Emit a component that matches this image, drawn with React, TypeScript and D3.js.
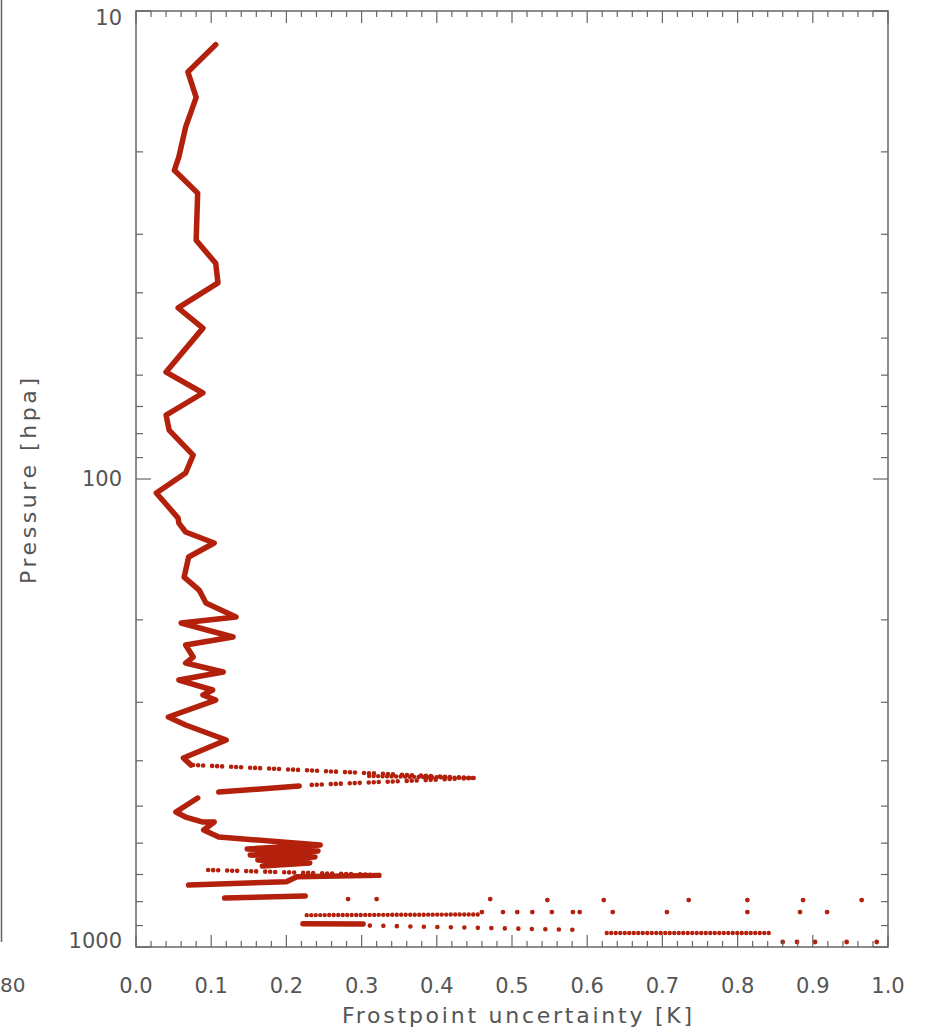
import React from "react";
import * as d3 from "d3";

// ---- data: [uncertainty K, pressure hPa] ----
const profileUpper: [number, number][] = [
  [0.106, 11.8], [0.069, 13.5], [0.080, 15.3], [0.066, 17.7], [0.057, 20.5], [0.051, 21.9],
  [0.082, 24.5], [0.080, 30.9], [0.106, 34.6], [0.109, 38.1], [0.056, 43.1], [0.089, 47.6],
  [0.040, 59.1], [0.089, 65.5], [0.040, 73.0], [0.044, 78.6], [0.076, 88.9], [0.066, 97.1],
  [0.027, 107.1], [0.056, 121.2], [0.057, 124.2], [0.066, 129.8], [0.104, 137.0], [0.070, 146.8],
  [0.064, 162.0], [0.084, 172.7], [0.093, 184.1], [0.133, 197.2], [0.060, 203.1], [0.129, 217.6],
  [0.066, 226.3], [0.076, 240.1], [0.066, 247.3], [0.116, 258.5], [0.057, 268.9], [0.102, 282.4],
  [0.089, 289.4], [0.106, 296.7], [0.043, 322.5], [0.066, 335.5], [0.120, 361.2], [0.063, 394.7],
  [0.073, 408.5],
];
const profileLower: [number, number][] = [
  [0.082, 480.5], [0.053, 514.7], [0.066, 527.6], [0.089, 540.7], [0.104, 540.7], [0.090, 562.3],
  [0.110, 582.1], [0.245, 605.5], [0.148, 617.4], [0.242, 623.5], [0.152, 635.9], [0.238, 642.2],
  [0.162, 651.7], [0.231, 661.4], [0.168, 671.2],
];
const solidRowB: [number, number][] = [[0.217, 452.9], [0.110, 466.6]];
const solidRow6: [number, number][] = [[0.323, 703], [0.214, 708], [0.200, 725], [0.070, 737.4]];
const solidRow7: [number, number][] = [[0.118, 786.1], [0.225, 778]];
const solidRow924: [number, number][] = [[0.222, 892], [0.302, 893.4]];

const groupedDotRows: [number, number][][] = [
  [[0.076, 408.5], [0.449, 435.5]],
  [[0.449, 435.5], [0.230, 450.7]],
  [[0.096, 684.6], [0.323, 701.6]],
];
const denseDotRows: [number, number][][] = [
  [[0.31, 431], [0.449, 435.5]],
  [[0.227, 855], [0.457, 852]],
  [[0.626, 933.4], [0.847, 933.4]],
];
const sparseDotRows: [number, number][][] = [
  [[0.311, 900], [0.597, 920]],
];
const scatterU = [
  0.282, 0.320, 0.471, 0.547, 0.622, 0.735, 0.813, 0.887, 0.965,
  0.460, 0.488, 0.507, 0.527, 0.553, 0.581, 0.590, 0.634, 0.706, 0.813, 0.883, 0.919,
  0.860, 0.879, 0.903, 0.945, 0.985,
];
const scatterP = [
  789.9, 789.9, 789.9, 793.9, 793.9, 793.9, 793.9, 793.9, 793.9,
  842, 842, 842, 842, 842, 842, 842, 842, 842, 842, 842, 842,
  975.7, 975.7, 975.7, 975.7, 975.7,
];

const xTickLabels = ["0.0", "0.1", "0.2", "0.3", "0.4", "0.5", "0.6", "0.7", "0.8", "0.9", "1.0"];
const yMajor = [10, 100, 1000];

const RED = "#b3200c";
const AX = "#666";
const TXT = "#555";
const FONT = "'DejaVu Sans', sans-serif";

export default function App() {
  const L = 136, R = 888, T = 11, B = 947;
  const x = d3.scaleLinear().domain([0, 1]).range([L, R]);
  const y = d3.scaleLog().domain([10, 1000]).range([T, B]);
  const line = d3.line<[number, number]>().x(d => x(d[0])).y(d => y(d[1]));

  const xMinor = d3.range(0, 51).map(i => i * 0.02);
  const yTicks = y.ticks();

  const solids = [profileUpper, profileLower, solidRowB, solidRow6, solidRow7, solidRow924];

  return (
    <svg width={926} height={1032} style={{ position: "absolute", left: 0, top: 0, background: "#fff" }}>
      <rect width={926} height={1032} fill="#fff" />
      {/* partial neighbour panel */}
      <line x1={1.5} y1={0} x2={1.5} y2={942} stroke={AX} strokeWidth={1.5} />
      <text x={0} y={992} textAnchor="start" fontFamily={FONT} fontSize={20} fill={TXT}>80</text>

      <g clipPath="url(#plotclip)">
        <defs>
          <clipPath id="plotclip"><rect x={L} y={T - 5} width={R - L + 2} height={B - T + 5} /></clipPath>
        </defs>
        {solids.map((s, i) => (
          <path key={"s" + i} d={line(s) || ""} fill="none" stroke={RED} strokeWidth={5.5}
            strokeLinejoin="round" strokeLinecap="round" />
        ))}
        {groupedDotRows.map((s, i) => (
          <path key={"g" + i} d={line(s) || ""} fill="none" stroke={RED} strokeWidth={4.6}
            strokeLinecap="round" strokeDasharray="0 5 0 5 0 9" />
        ))}
        {denseDotRows.map((s, i) => (
          <path key={"d" + i} d={line(s) || ""} fill="none" stroke={RED} strokeWidth={4.4}
            strokeLinecap="round" strokeDasharray="0 4.5" />
        ))}
        {sparseDotRows.map((s, i) => (
          <path key={"p" + i} d={line(s) || ""} fill="none" stroke={RED} strokeWidth={4.6}
            strokeLinecap="round" strokeDasharray="0 13.5" />
        ))}
        {scatterU.map((u, i) => (
          <circle key={"c" + i} cx={x(u)} cy={y(scatterP[i])} r={2.4} fill={RED} />
        ))}
      </g>

      {/* frame */}
      <rect x={L} y={T} width={R - L} height={B - T} fill="none" stroke={AX} strokeWidth={1.5} />
      {xMinor.map((v, i) => {
        const len = i % 5 === 0 ? 12 : 6;
        return (
          <g key={"xt" + i}>
            <line x1={x(v)} x2={x(v)} y1={B} y2={B - len} stroke={AX} strokeWidth={1.2} />
            <line x1={x(v)} x2={x(v)} y1={T} y2={T + len} stroke={AX} strokeWidth={1.2} />
          </g>
        );
      })}
      {yTicks.map((v, i) => {
        const major = yMajor.includes(v);
        const len = major ? 15 : 7;
        return (
          <g key={"yt" + i}>
            <line x1={L} x2={L + len} y1={y(v)} y2={y(v)} stroke={AX} strokeWidth={1.2} />
            <line x1={R} x2={R - len} y1={y(v)} y2={y(v)} stroke={AX} strokeWidth={1.2} />
          </g>
        );
      })}
      {xTickLabels.map((t, i) => (
        <text key={"xl" + i} x={x(+t)} y={993} textAnchor="middle" fontFamily={FONT} fontSize={21} fill={TXT}>{t}</text>
      ))}
      {yMajor.map((v, i) => (
        <text key={"yl" + i} x={122} y={Math.min(Math.max(y(v), 18), 941)} textAnchor="end"
          dominantBaseline="central" fontFamily={FONT} fontSize={21} fill={TXT}>{String(v)}</text>
      ))}
      <text x={517} y={1023} textAnchor="middle" fontFamily={FONT} fontSize={22} fill={TXT}
        textLength={350} lengthAdjust="spacing">Frostpoint uncertainty [K]</text>
      <text transform="translate(36,481) rotate(-90)" textAnchor="middle" fontFamily={FONT} fontSize={22}
        fill={TXT} textLength={206} lengthAdjust="spacing">Pressure [hpa]</text>
    </svg>
  );
}
